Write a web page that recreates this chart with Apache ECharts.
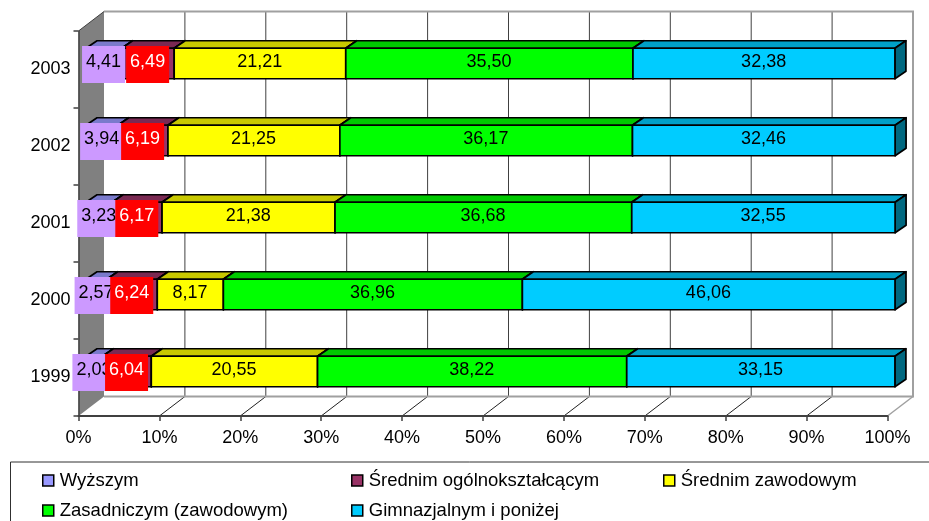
<!DOCTYPE html>
<html><head><meta charset="utf-8">
<style>html,body{margin:0;padding:0;background:#fff}#c{width:929px;height:521px}</style>
<script src="https://cdn.jsdelivr.net/npm/echarts@6/dist/echarts.min.js"></script>
</head><body><div id="c"></div>
<script>
const years = ['1999','2000','2001','2002','2003'];
const wyzszym = [2.03,2.57,3.23,3.94,4.41];
const ogolno = [6.04,6.24,6.17,6.19,6.49];
const zawodowym = [20.55,8.17,21.38,21.25,21.21];
const zasadniczym = [38.22,36.96,36.68,36.17,35.50];
const gimnazjalnym = [33.15,46.06,32.55,32.46,32.38];
const xTicks = [0,10,20,30,40,50,60,70,80,90,100];
const names = ['Wyższym','Średnim ogólnokształcącym','Średnim zawodowym','Zasadniczym (zawodowym)','Gimnazjalnym i poniżej'];
const values = [wyzszym,ogolno,zawodowym,zasadniczym,gimnazjalnym];
const legendColors = ['#9999FF','#993366','#FFFF00','#00FF00','#00CCFF'];
const frontColors = ['#9999FF','#993366','#FFFF00','#00FF00','#00CCFF'];
const topColors = ['#7A7ACC','#7A2952','#C8C800','#00C800','#00A0C8'];
const sideColors = ['#4D4D80','#4D1A33','#808000','#008000','#006880'];
const labelBg = ['#CC99FF','#FF0000',null,null,null];
const labelFg = ['#000','#fff','#000','#000','#000'];
const legendPos = [[42,471],[351,471],[663,471],[42,501],[351,501]];

const WALL = [25.5,-19.5], FRONT = [7.5,-6], DEPTH = [11,-7.5], BAR_H = 30.5;
const LS = {stroke:'#000',lineWidth:1.7,lineJoin:'round'};

function wallItem(params, api){
  const cs = params.coordSys, L=cs.x, R=cs.x+cs.width, T=cs.y, B=cs.y+cs.height;
  const [dx,dy]=WALL, ch=[];
  ch.push({type:'polygon',shape:{points:[[L,T],[L+dx,T+dy],[L+dx,B+dy],[L,B]]},style:{fill:'#808080',stroke:null}});
  xTicks.forEach(v=>{
    const x=api.coord([v,0])[0];
    if(v>0&&v<100){
      ch.push({type:'line',shape:{x1:x+dx,y1:T+dy,x2:x+dx,y2:B+dy},style:{stroke:'#404040',lineWidth:1}});
      ch.push({type:'line',shape:{x1:x,y1:B,x2:x+dx,y2:B+dy},style:{stroke:'#202020',lineWidth:1}});
    }
  });
  ch.push({type:'polyline',shape:{points:[[L+dx,T+dy],[R+dx,T+dy],[R+dx,B+dy],[L+dx,B+dy]]},style:{fill:null,stroke:'#A0A0A0',lineWidth:2}});
  ch.push({type:'line',shape:{x1:R,y1:B,x2:R+dx,y2:B+dy},style:{stroke:'#A0A0A0',lineWidth:1.5}});
  ch.push({type:'line',shape:{x1:L,y1:T,x2:L+dx,y2:T+dy},style:{stroke:'#404040',lineWidth:1}});
  return {type:'group',children:ch};
}
function barItem(idx){
  return function(params, api){
    const s=api.value(0), e=api.value(1), c=api.value(2), val=api.value(3);
    const p0=api.coord([s,c]), p1=api.coord([e,c]);
    const x0=p0[0]+FRONT[0], x1=p1[0]+FRONT[0], cy=p0[1]+FRONT[1];
    const y0=cy-BAR_H/2, y1=cy+BAR_H/2, dx=DEPTH[0], dy=DEPTH[1];
    const ch=[
      {type:'polygon',shape:{points:[[x0,y0],[x0+dx,y0+dy],[x1+dx,y0+dy],[x1,y0]]},style:{fill:topColors[idx],...LS}},
      {type:'polygon',shape:{points:[[x1,y0],[x1+dx,y0+dy],[x1+dx,y1+dy],[x1,y1]]},style:{fill:sideColors[idx],...LS}},
      {type:'rect',shape:{x:x0,y:y0,width:x1-x0,height:BAR_H},style:{fill:frontColors[idx],...LS}}
    ];
    const cx=(x0+x1)/2-0.3;
    if(labelBg[idx]) ch.push({type:'rect',z2:20+idx*2,shape:{x:cx-21.5,y:cy-17.5,width:43,height:37},style:{fill:labelBg[idx]}});
    ch.push({type:'text',z2:21+idx*2,x:cx,y:cy-1,style:{text:val.toFixed(2).replace('.',','),
      fill:labelFg[idx],font:'18px "Liberation Sans"',align:'center',verticalAlign:'middle'}});
    return {type:'group',children:ch};
  };
}
const series=[{type:'custom',name:'wall',z:0,silent:true,clip:false,renderItem:wallItem,data:[[0,0]],
  encode:{x:0,y:1}}];
const cum=years.map(()=>0);
values.forEach((arr,i)=>{
  const rows=arr.map((v,c)=>{const r=[cum[c],cum[c]+v,c,v];cum[c]+=v;return r;});
  series.push({type:'custom',name:names[i],z:2,silent:true,clip:false,renderItem:barItem(i),data:rows,
    encode:{x:[0,1],y:2},itemStyle:{color:legendColors[i]}});
});
const legends=names.map((n,i)=>({
  show:true,left:legendPos[i][0],top:legendPos[i][1],orient:'horizontal',padding:0,
  itemWidth:11,itemHeight:11,selectedMode:false,
  data:[{name:n,icon:'rect',itemStyle:{color:legendColors[i],borderColor:'#000',borderWidth:1.5}}],
  textStyle:{color:'#000',fontFamily:'Liberation Sans',fontSize:18.5,padding:[0,0,2,1]}
}));
const chart=echarts.init(document.getElementById('c'),null,{renderer:'canvas'});
chart.setOption({
  animation:false,backgroundColor:'#fff',
  grid:{left:78.5,right:41.5,top:31,bottom:105,containLabel:false},
  xAxis:{type:'value',min:0,max:100,interval:10,z:1,
    axisLine:{show:true,lineStyle:{color:'#404040',width:2}},
    axisTick:{show:true,length:5,lineStyle:{color:'#404040',width:1.5}},
    splitLine:{show:false},
    axisLabel:{color:'#000',fontFamily:'Liberation Sans',fontSize:18,margin:13,formatter:'{value}%',hideOverlap:false,showMinLabel:true,showMaxLabel:true,customValues:xTicks}},
  yAxis:{type:'category',data:years,z:1,
    axisLine:{show:true,lineStyle:{color:'#404040',width:1.5}},
    axisTick:{show:true,length:5,lineStyle:{color:'#404040',width:1.5}},
    splitLine:{show:false},
    axisLabel:{color:'#000',fontFamily:'Liberation Sans',fontSize:18,margin:8,padding:[0,0,8,0]}},
  legend:legends,
  graphic:[{type:'polyline',silent:true,shape:{points:[[10.5,521],[10.5,462],[929,462]]},style:{fill:null,stroke:'#303030',lineWidth:1}}],
  series:series
});
</script></body></html>
